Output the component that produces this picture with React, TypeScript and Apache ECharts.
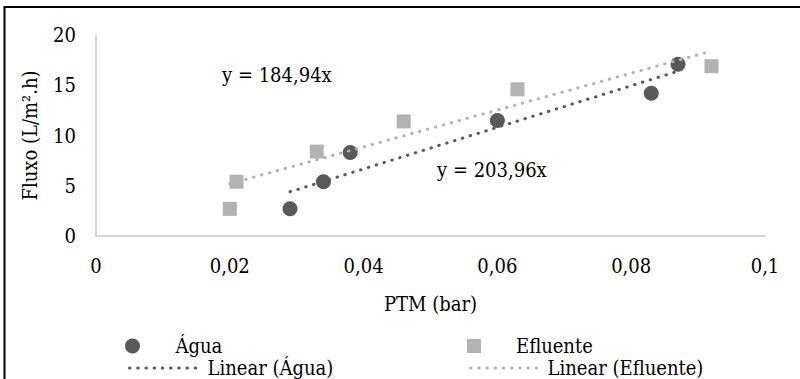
import { useEffect, useRef } from "react";
import * as echarts from "echarts";

// PTM (bar) values and Fluxo (L/m².h) values
const aguaX = [0.029, 0.034, 0.038, 0.06, 0.083, 0.087];
const aguaY = [2.7, 5.4, 8.3, 11.5, 14.2, 17.1];
const efluenteX = [0.02, 0.021, 0.033, 0.046, 0.063, 0.092];
const efluenteY = [2.7, 5.4, 8.4, 11.4, 14.6, 16.9];

// trendline end points as drawn in the reference
const aguaTrendX = [0.029, 0.087];
const aguaTrendY = [4.4, 16.4];
const efluenteTrendX = [0.02, 0.092];
const efluenteTrendY = [5.2, 18.4];

const eqAgua = "y = 203,96x";
const eqEfluente = "y = 184,94x";

const FONT = "'DejaVu Serif Condensed', 'DejaVu Serif', serif";
const FS = 20;
const DARK = "#595959";
const LIGHT = "#b2b2b2";

const zip = (xs: number[], ys: number[]) => xs.map((x, i) => [x, ys[i]]);
const fmt = (v: number) => String(+v.toFixed(4)).replace(".", ",");

export default function App() {
  const ref = useRef<HTMLDivElement>(null);
  useEffect(() => {
    if (!ref.current) return;
    const chart = echarts.init(ref.current, undefined, { renderer: "svg" });
    const textStyle = { fontFamily: FONT, fontSize: FS, color: "#000" };
    const dotted = (color: string) => ({
      color,
      width: 3,
      type: [0.5, 7.7] as any,
      cap: "round" as any,
    });
    const lineLegend = (name: string, left: number, width: number) => ({
      data: [name],
      left,
      top: 358,
      padding: 0,
      itemWidth: width,
      itemHeight: 14,
      textStyle,
      selectedMode: false,
      itemStyle: { opacity: 0 },
      lineStyle: { width: 3, type: [0.5, 7.7], cap: "round" },
    });
    chart.setOption({
      animation: false,
      backgroundColor: "#fff",
      textStyle,
      grid: { left: 96, right: 35, top: 35, bottom: 143 },
      xAxis: {
        type: "value",
        min: 0,
        max: 0.1,
        interval: 0.02,
        name: "PTM (bar)",
        nameLocation: "middle",
        nameGap: 58,
        nameTextStyle: textStyle,
        axisLine: { show: true, lineStyle: { color: "#c8c8c8", width: 1.5 } },
        axisTick: { show: false },
        splitLine: { show: false },
        axisLabel: { ...textStyle, margin: 20, formatter: fmt },
      },
      yAxis: {
        type: "value",
        min: 0,
        max: 20,
        interval: 5,
        name: "Fluxo (L/m².h)",
        nameLocation: "middle",
        nameGap: 56,
        nameTextStyle: textStyle,
        axisLine: { show: true, lineStyle: { color: "#c8c8c8", width: 1.5 } },
        axisTick: { show: false },
        splitLine: { show: false },
        axisLabel: { ...textStyle, margin: 20, formatter: fmt },
      },
      legend: [
        {
          data: [{ name: "Água", icon: "circle" }],
          left: 125,
          top: 336,
          padding: 0,
          itemWidth: 76,
          itemHeight: 15,
          textStyle,
          selectedMode: false,
        },
        {
          data: [{ name: "Efluente", icon: "path://M0,0L10,0L10,10L0,10Z" }],
          left: 467,
          top: 336,
          padding: 0,
          itemWidth: 74,
          itemHeight: 14,
          textStyle,
          selectedMode: false,
        },
        lineLegend("Linear (Água)", 128, 73),
        lineLegend("Linear (Efluente)", 469, 72),
      ],
      graphic: [
        {
          type: "rect",
          shape: { x: 4.5, y: 7, width: 1000, height: 1000 },
          style: { fill: "none", stroke: "#000", lineWidth: 2 },
          silent: true,
        },
        {
          type: "text",
          x: 222,
          y: 75,
          style: { text: eqEfluente, fontFamily: FONT, fontSize: FS, fill: "#000", verticalAlign: "middle" },
        },
        {
          type: "text",
          x: 437,
          y: 170,
          style: { text: eqAgua, fontFamily: FONT, fontSize: FS, fill: "#000", verticalAlign: "middle" },
        },
      ],
      series: [
        {
          name: "Água",
          type: "scatter",
          symbol: "circle",
          symbolSize: 15,
          itemStyle: { color: DARK, opacity: 1 },
          data: zip(aguaX, aguaY),
          z: 2,
        },
        {
          name: "Efluente",
          type: "scatter",
          symbol: "rect",
          symbolSize: 14,
          itemStyle: { color: LIGHT, opacity: 1 },
          data: zip(efluenteX, efluenteY),
          z: 2,
        },
        {
          name: "Linear (Água)",
          type: "line",
          symbol: "none",
          showSymbol: false,
          color: DARK,
          lineStyle: dotted(DARK),
          data: zip(aguaTrendX, aguaTrendY),
          z: 3,
        },
        {
          name: "Linear (Efluente)",
          type: "line",
          symbol: "none",
          showSymbol: false,
          color: LIGHT,
          lineStyle: dotted(LIGHT),
          data: zip(efluenteTrendX, efluenteTrendY),
          z: 3,
        },
      ],
    });
    return () => chart.dispose();
  }, []);
  return (
    <div
      ref={ref}
      style={{ position: "absolute", left: 0, top: 0, width: 800, height: 379 }}
    />
  );
}
